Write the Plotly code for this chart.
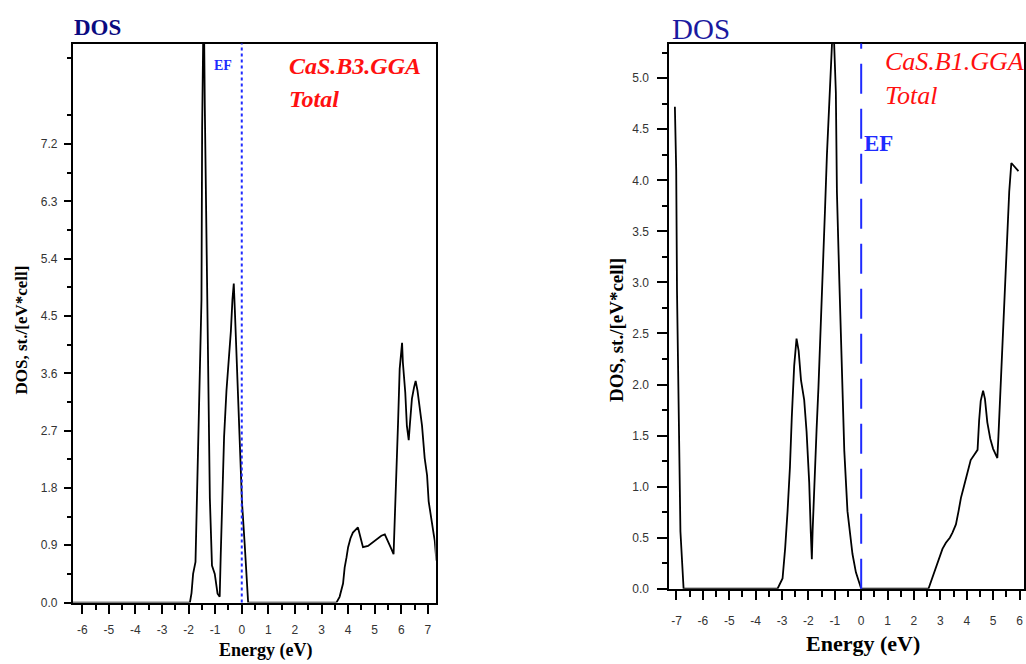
import plotly.graph_objects as go

# ---- CaS zinc-blende (B3), GGA: total DOS ----
b3_energy = [-6.35, -1.95, -1.89, -1.83, -1.74, -1.665, -1.515, -1.49, -1.43, -1.39,
             -1.32, -1.27, -1.20, -1.12, -1.015, -0.91, -0.83, -0.79, -0.74, -0.665,
             -0.575, -0.49, -0.41, -0.35, -0.30, -0.26, -0.20, -0.14, -0.075, 0.01,
             0.11, 0.18, 0.24, 3.56, 3.68, 3.81, 3.87, 3.94, 4.00, 4.09,
             4.18, 4.37, 4.44, 4.56, 4.75, 5.00, 5.25, 5.38, 5.50, 5.63,
             5.71, 5.75, 5.82, 5.88, 5.94, 6.03, 6.06, 6.15, 6.21, 6.28,
             6.32, 6.40, 6.48, 6.54, 6.61, 6.69, 6.78, 6.88, 6.97, 7.03,
             7.13, 7.22, 7.26, 7.32]
b3_dos = [0.0, 0.0, 0.15, 0.45, 0.64, 2.06, 4.76, 7.45, 9.6, 7.8,
          5.7, 3.7, 1.64, 0.58, 0.45, 0.14, 0.09, 0.76, 1.64, 2.6,
          3.33, 3.8, 4.26, 4.76, 5.01, 4.6, 3.92, 3.05, 2.29, 1.57,
          0.92, 0.33, 0.0, 0.0, 0.09, 0.3, 0.55, 0.71, 0.87, 1.01,
          1.10, 1.18, 1.07, 0.87, 0.89, 0.97, 1.05, 1.07, 0.97, 0.84,
          0.76, 1.18, 2.0, 2.84, 3.67, 4.08, 3.77, 3.30, 2.78, 2.55,
          2.78, 3.2, 3.38, 3.48, 3.33, 3.09, 2.78, 2.27, 2.0, 1.59,
          1.28, 1.07, 0.97, 0.66]

# ---- CaS rock-salt (B1), GGA: total DOS ----
b1_energy = [-7.06, -7.01, -6.98, -6.91, -6.85, -6.73,
             -3.17, -2.98, -2.88, -2.79, -2.70, -2.63, -2.54, -2.45, -2.37, -2.28,
             -2.16, -2.07, -1.97, -1.91, -1.87, -1.84, -1.78, -1.69, -1.62, -1.53,
             -1.46, -1.37, -1.30, -1.21, -1.15, -1.06, -0.96, -0.92, -0.83, -0.75,
             -0.64, -0.52, -0.42, -0.33, -0.20, -0.08, 0.00,
             2.55, 2.70, 2.83, 2.95, 3.08, 3.21, 3.36, 3.46, 3.59, 3.69,
             3.78, 3.88, 3.97, 4.06, 4.15, 4.28, 4.41, 4.47, 4.53, 4.62,
             4.69, 4.78, 4.89, 5.00, 5.16, 5.20, 5.27, 5.35, 5.43, 5.52,
             5.61, 5.69, 5.83, 5.96]
b1_dos = [4.72, 4.10, 2.92, 1.74, 0.56, 0.0,
          0.0, 0.10, 0.40, 0.76, 1.19, 1.68, 2.18, 2.45, 2.33, 2.04,
          1.85, 1.54, 1.04, 0.55, 0.29, 0.57, 1.04, 1.56, 1.97, 2.54,
          3.16, 3.72, 4.24, 4.69, 5.12, 5.6, 4.86, 3.89, 3.03, 2.23,
          1.35, 0.76, 0.52, 0.34, 0.16, 0.06, 0.0,
          0.0, 0.11, 0.21, 0.31, 0.39, 0.45, 0.50, 0.55, 0.63, 0.76,
          0.89, 0.99, 1.08, 1.19, 1.26, 1.31, 1.36, 1.65, 1.84, 1.94,
          1.86, 1.63, 1.47, 1.37, 1.28, 1.49, 1.92, 2.37, 2.86, 3.37,
          3.89, 4.17, 4.13, 4.09]

# ---- tick values and labels ----
b3_xticks = [-6, -5, -4, -3, -2, -1, 0, 1, 2, 3, 4, 5, 6, 7]
b3_xlabels = ["-6", "-5", "-4", "-3", "-2", "-1", "0", "1", "2", "3", "4", "5", "6", "7"]
b3_yticks = [0.0, 0.9, 1.8, 2.7, 3.6, 4.5, 5.4, 6.3, 7.2]
b3_ylabels = ["0.0", "0.9", "1.8", "2.7", "3.6", "4.5", "5.4", "6.3", "7.2"]
b1_xticks = [-7, -6, -5, -4, -3, -2, -1, 0, 1, 2, 3, 4, 5, 6]
b1_xlabels = ["-7", "-6", "-5", "-4", "-3", "-2", "-1", "0", "1", "2", "3", "4", "5", "6"]
b1_yticks = [0.0, 0.5, 1.0, 1.5, 2.0, 2.5, 3.0, 3.5, 4.0, 4.5, 5.0]
b1_ylabels = ["0.0", "0.5", "1.0", "1.5", "2.0", "2.5", "3.0", "3.5", "4.0", "4.5", "5.0"]

W, H = 1026, 664


def px(x):
    return x / W


def py(y):
    return 1 - y / H


TICK_FONT = dict(family="Liberation Sans", size=12, color="#333333")
SERIF = "Liberation Serif"

fig = go.Figure()
fig.add_trace(go.Scatter(x=b3_energy, y=b3_dos, mode="lines", xaxis="x", yaxis="y",
                         line=dict(color="black", width=1.8), showlegend=False))
fig.add_trace(go.Scatter(x=b1_energy, y=b1_dos, mode="lines", xaxis="x2", yaxis="y2",
                         line=dict(color="black", width=1.8), showlegend=False))


def xaxis(domain, rng, vals, labels, anchor, minor_len, major_len, standoff):
    return dict(domain=domain, range=rng, anchor=anchor,
                tickmode="array", tickvals=vals, ticktext=labels,
                ticks="outside", ticklen=major_len, tickwidth=1.5, tickcolor="black",
                minor=dict(tickmode="array",
                           tickvals=[v + 0.5 for v in vals],
                           ticks="outside", ticklen=minor_len, tickwidth=1.5, tickcolor="black"),
                showline=True, linecolor="black", linewidth=2, mirror=True,
                showgrid=False, zeroline=False, tickfont=TICK_FONT,
                ticklabelstandoff=standoff, fixedrange=True)


def yaxis(domain, rng, vals, labels, minors, anchor, minor_len, major_len, standoff):
    return dict(domain=domain, range=rng, anchor=anchor,
                tickmode="array", tickvals=vals, ticktext=labels,
                ticks="outside", ticklen=major_len, tickwidth=1.5, tickcolor="black",
                minor=dict(tickmode="array", tickvals=minors,
                           ticks="outside", ticklen=minor_len, tickwidth=1.5, tickcolor="black"),
                showline=True, linecolor="black", linewidth=2, mirror=True,
                showgrid=False, zeroline=False, tickfont=TICK_FONT,
                ticklabelstandoff=standoff, fixedrange=True)


b3_yminor = [round(0.45 + 0.9 * i, 2) for i in range(10)]
b1_yminor = [round(0.25 + 0.5 * i, 2) for i in range(11)]

fig.update_layout(
    width=W, height=H,
    margin=dict(l=0, r=0, t=0, b=0),
    paper_bgcolor="white", plot_bgcolor="white",
    xaxis=xaxis([px(73), px(436)], [-6.35, 7.29], b3_xticks, b3_xlabels, "y", 5, 9, 6),
    yaxis=yaxis([py(609), py(44)], [0, 8.78], b3_yticks, b3_ylabels, b3_yminor, "x", 4, 7, 4),
    xaxis2=xaxis([px(670), px(1025)], [-7.27, 6.17], b1_xticks, b1_xlabels, "y2", 6, 9, 11),
    yaxis2=yaxis([py(595), py(44)], [0, 5.34], b1_yticks, b1_ylabels, b1_yminor, "x2", 5, 10, 6),
)

# Fermi level markers
fig.add_shape(type="line", xref="x", yref="y domain", x0=0, x1=0, y0=0, y1=1,
              line=dict(color="#1f2bff", width=2, dash="3px,3px"))
fig.add_shape(type="line", xref="x2", yref="y2 domain", x0=0, x1=0, y0=0, y1=1,
              line=dict(color="#1f2bff", width=2, dash="30px,15px"))

ann = []


def label(text, x, y, size, color, bold=False, italic=False, family=SERIF,
          xanchor="left", angle=0):
    t = text
    if bold:
        t = "<b>" + t + "</b>"
    if italic:
        t = "<i>" + t + "</i>"
    ann.append(dict(text=t, x=px(x), y=py(y), xref="paper", yref="paper",
                    xanchor=xanchor, yanchor="middle", showarrow=False,
                    textangle=angle, font=dict(family=family, size=size, color=color)))


# left panel texts
label("DOS", 72, 28, 23, "#0a0a80", bold=True)
label("EF", 212, 66, 14, "#1f2bff", bold=True)
label("CaS.B3.GGA", 287, 67, 24, "#ff1010", bold=True, italic=True)
label("Total", 287, 100, 24, "#ff1010", bold=True, italic=True)
label("Energy (eV)", 266, 657, 18, "black", bold=True, xanchor="center")
label("DOS, st./[eV*cell]", 22, 333, 17, "black", bold=True, xanchor="center", angle=-90)

# right panel texts
label("DOS", 671, 29, 29, "#1a1aa0")
label("EF", 863, 145, 23, "#1f2bff", bold=True)
label("CaS.B1.GGA", 884, 62, 26, "#ff1010", italic=True)
label("Total", 884, 97, 26, "#ff1010", italic=True)
label("Energy (eV)", 864, 650, 22, "black", bold=True, xanchor="center")
label("DOS, st./[eV*cell]", 617, 333, 19, "black", bold=True, xanchor="center", angle=-90)

fig.update_layout(annotations=ann)

fig.write_html("out.html")
